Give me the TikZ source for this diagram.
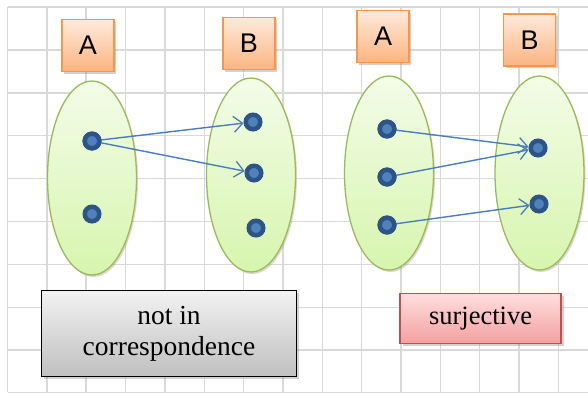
\documentclass[tikz,border=0pt]{standalone}
\usepackage{fontspec}
\setmainfont{Liberation Serif}
\newfontfamily\labelfont{Liberation Sans}
\usetikzlibrary{shapes.geometric,arrows.meta,shadows}
\definecolor{gridc}{HTML}{D9D9D9}
\definecolor{orbord}{HTML}{F79646}
\definecolor{ortop}{HTML}{FFEADC}
\definecolor{orbot}{HTML}{FBB480}
\definecolor{grbord}{HTML}{9BBB59}
\definecolor{grtop}{HTML}{F3FCE8}
\definecolor{grbot}{HTML}{D7F5AE}
\definecolor{dotin}{HTML}{4F81BD}
\definecolor{dotout}{HTML}{2C5486}
\definecolor{arr}{HTML}{4A7EBB}
\definecolor{pkbord}{HTML}{C0504D}
\definecolor{pktop}{HTML}{FFDEDE}
\definecolor{pkbot}{HTML}{F3A0A0}
\tikzset{
  setlabel/.style={draw=orbord, line width=1.3pt, top color=ortop, bottom color=orbot,
    minimum width=52pt, minimum height=52pt, inner sep=0pt, font=\labelfont\fontsize{27}{27}\selectfont,
    drop shadow={opacity=0.35, shadow xshift=2pt, shadow yshift=-2pt}},
  setell/.style={ellipse, draw=grbord, line width=1.3pt, top color=grtop, bottom color=grbot,
    minimum width=89pt, minimum height=194pt, inner sep=0pt,
    drop shadow={opacity=0.3, shadow xshift=1.5pt, shadow yshift=-2pt}},
  elem/.style={circle, fill=dotin, draw=dotout, line width=4.5pt, minimum size=14.5pt, inner sep=0pt},
  mapto/.style={draw=arr, line width=1.4pt, -{Straight Barb[length=9pt, width=16pt, line width=1.3pt]}},
  captionbox/.style={line width=1.3pt, inner sep=0pt, align=center,
    drop shadow={opacity=0.35, shadow xshift=2.5pt, shadow yshift=-2.5pt}}
}
\begin{document}
\begin{tikzpicture}[x=1pt, y=-1pt]
\useasboundingbox (0,0) rectangle (588,392);
\fill[white] (0,0) rectangle (588,392);
% grid
\foreach \i in {0,...,14} {
  \draw[gridc, line width=1.5pt] ({7.5+39.35*\i},7) -- ({7.5+39.35*\i},392);
}
\foreach \j in {0,...,9} {
  \draw[gridc, line width=1.5pt] (7.5,{7+42.9*\j}) -- (588,{7+42.9*\j});
}
% ellipses
\node[setell] (e1) at (92,178) {};
\node[setell] (e2) at (251,175) {};
\node[setell] (e3) at (389,173) {};
\node[setell] (e4) at (539.5,173) {};
% set labels
\node[setlabel] (la1) at (88,45.5) {A};
\node[setlabel] (lb1) at (249,43.5) {B};
\node[setlabel] (la2) at (383,36.5) {A};
\node[setlabel] (lb2) at (529.5,40) {B};
% elements
\node[elem] (a1) at (92,141) {};
\node[elem] (a2) at (92,214) {};
\node[elem] (b1) at (253,122) {};
\node[elem] (b2) at (254,173) {};
\node[elem] (b3) at (256,228) {};
\node[elem] (c1) at (387,129) {};
\node[elem] (c2) at (387,177) {};
\node[elem] (c3) at (387,225) {};
\node[elem] (d1) at (538,148) {};
\node[elem] (d2) at (539,204) {};
% mappings
\draw[mapto] (a1.center) -- (b1);
\draw[mapto] (a1.center) -- (b2);
\draw[mapto] (c1.center) -- (d1);
\draw[mapto] (c2.center) -- (d1);
\draw[mapto] (c3.center) -- (d2);
% redraw dots over line starts
\foreach \n in {a1,c1,c2,c3} { \node[elem] at (\n) {}; }
% captions
\node[captionbox, draw=black, top color=white!95!black, bottom color=black!25,
  minimum width=255pt, minimum height=86pt, font=\fontsize{27.5}{31}\selectfont] (cap1) at (169,333.5) {not in\\correspondence};
\node[captionbox, draw=pkbord, top color=pktop, bottom color=pkbot,
  minimum width=161pt, minimum height=50pt, font=\fontsize{26.5}{31}\selectfont] (cap2) at (480.5,318.5) {surjective};
\end{tikzpicture}
\end{document}
